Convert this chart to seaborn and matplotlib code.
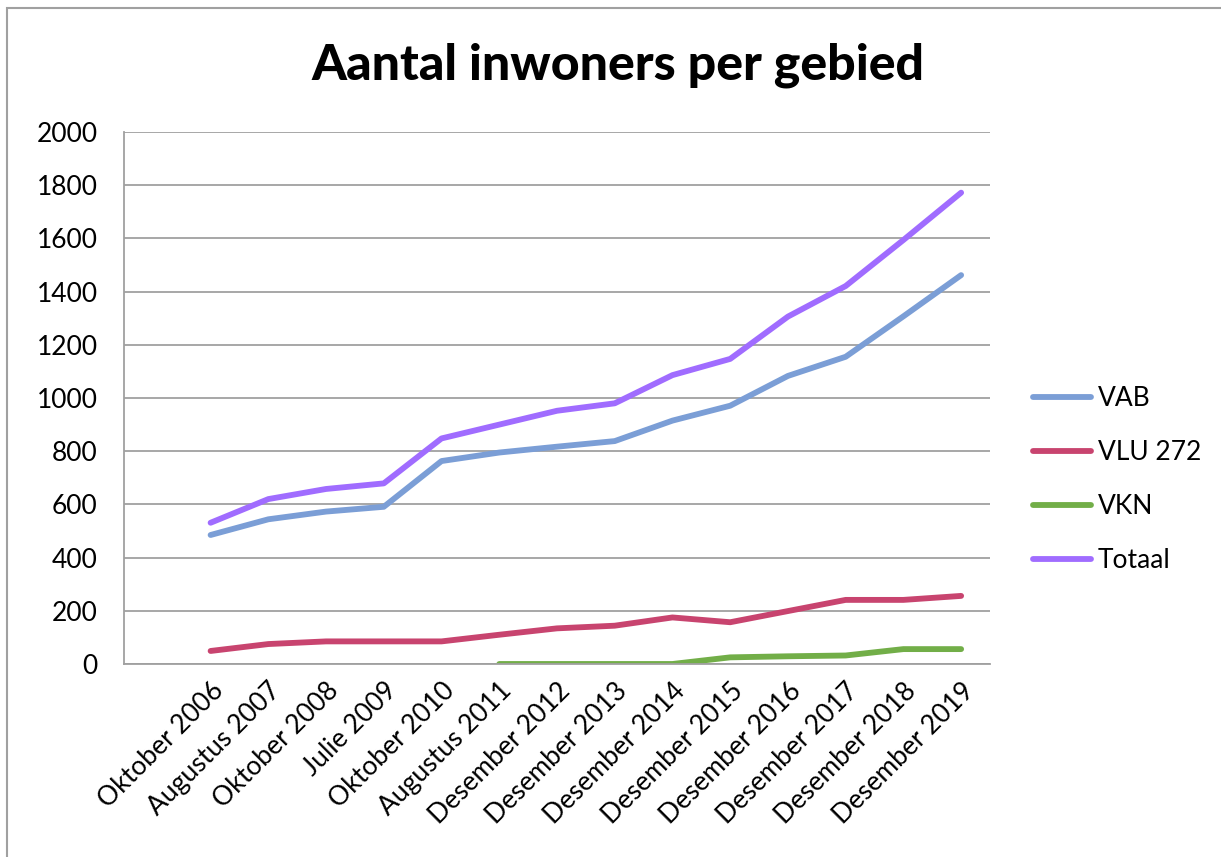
import pandas as pd
import matplotlib.pyplot as plt
import matplotlib.patches as patches
import seaborn as sns

# data
periods = ['Oktober 2006', 'Augustus 2007', 'Oktober 2008', 'Julie 2009',
           'Oktober 2010', 'Augustus 2011', 'Desember 2012', 'Desember 2013',
           'Desember 2014', 'Desember 2015', 'Desember 2016', 'Desember 2017',
           'Desember 2018', 'Desember 2019']
vab = [485, 544, 573, 591, 763, 795, 817, 838, 915, 971, 1083, 1155, 1307, 1462]
vlu = [49, 75, 85, 85, 85, 110, 134, 144, 175, 157, 199, 241, 241, 256]
vkn = [None, None, None, None, None, 0, 0, 0, 0, 25, 29, 32, 56, 56]
totaal = [531, 620, 658, 679, 848, 900, 952, 980, 1086, 1147, 1306, 1421, 1594, 1772]

series = ['VAB', 'VLU 272', 'VKN', 'Totaal']
colors = ['#7B9ED6', '#C8446F', '#72AE48', '#A06CFF']

# long table, first (empty) category slot is position 0
rows = []
for name, vals in zip(series, [vab, vlu, vkn, totaal]):
    for i, v in enumerate(vals):
        rows.append({'pos': i + 1, 'value': v, 'serie': name})
df = pd.DataFrame(rows)

sns.set_style('white')
plt.rcParams['font.family'] = ['Lato', 'DejaVu Sans']
plt.rcParams['text.color'] = 'black'
plt.rcParams['xtick.color'] = 'black'
plt.rcParams['ytick.color'] = 'black'

fig = plt.figure(figsize=(12.21, 8.57), dpi=100)
ax = fig.add_axes([124 / 1221, 1 - 664 / 857, 866 / 1221, 532 / 857])

sns.lineplot(data=df, x='pos', y='value', hue='serie', hue_order=series,
             palette=colors, linewidth=4.2, ax=ax, legend=False,
             solid_capstyle='round')

ax.set_xlim(-0.5, 14.5)
ax.set_ylim(0, 2000)
ax.set_yticks(range(0, 2001, 200))
ax.set_xticks(range(1, 15))
ax.set_xticklabels(periods, rotation=45, ha='right', rotation_mode='anchor')
ax.tick_params(axis='both', labelsize=19, length=0)
ax.tick_params(axis='y', pad=19)
ax.tick_params(axis='x', pad=10)
ax.set_xlabel('')
ax.set_ylabel('')
ax.grid(axis='y', color='#A0A0A0', linewidth=1.3)
ax.set_axisbelow(True)
for s in ['top', 'right']:
    ax.spines[s].set_visible(False)
for s in ['left', 'bottom']:
    ax.spines[s].set_color('#A0A0A0')
    ax.spines[s].set_linewidth(1.3)

handles = [plt.Line2D([], [], color=c, linewidth=4.2, solid_capstyle='round')
           for c in colors]
fig.legend(handles, series, loc='center left', frameon=False, fontsize=19,
           bbox_to_anchor=(1033 / 1221, 1 - 479.5 / 857), handlelength=2.2,
           handletextpad=0.25, labelspacing=1.1, borderpad=0, borderaxespad=0)

fig.text(0.506, 1 - 65 / 857, 'Aantal inwoners per gebied', ha='center',
         va='center', fontsize=36, fontweight='black')

# chart border like the spreadsheet frame
fig.patches.append(patches.Rectangle((7 / 1221, -0.1), 1.2, 1 - 8 / 857 + 0.1,
                                     transform=fig.transFigure, fill=False,
                                     edgecolor='#A0A0A0', linewidth=1.5))

fig.savefig('out.png', dpi=100)
